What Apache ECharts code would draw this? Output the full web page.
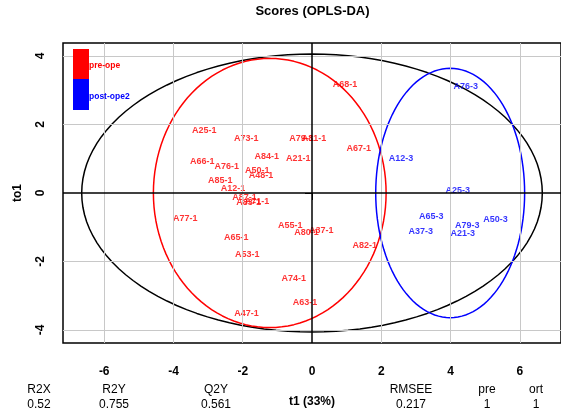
<!DOCTYPE html>
<html>
<head>
<meta charset="utf-8">
<script src="https://cdn.jsdelivr.net/npm/echarts@6/dist/echarts.min.js"></script>
<style>html,body{margin:0;padding:0;background:#fff;}#c{width:561px;height:413px;}</style>
</head>
<body>
<div id="c"></div>
<script>
// ---- data ----
const seriesNames = ['pre-ope', 'post-ope2'];
const seriesColors = ['#ff0000', '#0000ff'];

const preLabels = ['A68-1','A25-1','A73-1','A79-1','A81-1','A84-1','A21-1','A67-1','A66-1','A76-1','A50-1','A48-1','A85-1','A12-1','A87-1','A83-1','A71-1','A77-1','A55-1','A80-1','A37-1','A65-1','A53-1','A82-1','A74-1','A63-1','A47-1'];
const preX = [0.95,-3.11,-1.90,-0.30,0.06,-1.31,-0.40,1.35,-3.17,-2.46,-1.58,-1.47,-2.65,-2.28,-1.95,-1.83,-1.59,-3.66,-0.63,-0.16,0.27,-2.19,-1.87,1.52,-0.53,-0.20,-1.89];
const preY = [3.18,1.83,1.58,1.60,1.58,1.07,1.00,1.31,0.91,0.78,0.65,0.50,0.35,0.13,-0.12,-0.29,-0.26,-0.74,-0.95,-1.16,-1.11,-1.31,-1.81,-1.52,-2.50,-3.20,-3.53];

const postLabels = ['A76-3','A12-3','A25-3','A65-3','A50-3','A79-3','A37-3','A21-3'];
const postX = [4.44,2.57,4.21,3.44,5.30,4.48,3.14,4.35];
const postY = [3.10,1.02,0.07,-0.70,-0.76,-0.95,-1.12,-1.17];

// ellipses: Hotelling T2 (black), pre-ope (red), post-ope2 (blue)
const ellipseColors = ['#000000', '#ff0000', '#0000ff'];
const ellipseCx = [0, -1.22, 3.99];
const ellipseCy = [0, 0, 0];
const ellipseRx = [6.65, 3.36, 2.15];
const ellipseRy = [4.06, 3.93, 3.64];

const xTicks = [-6, -4, -2, 0, 2, 4, 6];
const yTicks = [-4, -2, 0, 2, 4];
const xGrid = [-6, -4, -2, 2, 4, 6];
const yGrid = [-4, -2, 2, 4];

const statNames = ['R2X', 'R2Y', 'Q2Y', 'RMSEE', 'pre', 'ort'];
const statValues = ['0.52', '0.755', '0.561', '0.217', '1', '1'];

const titleText = 'Scores (OPLS-DA)';
const xName = 't1 (33%)';
const yName = 'to1';

// ---- chart ----
const FONT = '"Liberation Sans", Arial, sans-serif';
const chart = echarts.init(document.getElementById('c'), null, {renderer: 'canvas'});

function ellipsePts(i) {
  const pts = [];
  const n = 120;
  for (let k = 0; k <= n; k++) {
    const t = 2 * Math.PI * k / n;
    pts.push([ellipseCx[i] + ellipseRx[i] * Math.cos(t), ellipseCy[i] + ellipseRy[i] * Math.sin(t)]);
  }
  return pts;
}

const series = [];
// grid lines + zero lines
series.push({
  type: 'line', data: [[0, 0]], showSymbol: false, silent: true, z: 1,
  lineStyle: {width: 0},
  markLine: {
    silent: true, symbol: 'none', animation: false,
    label: {show: false},
    data: xGrid.map(v => ({xAxis: v, lineStyle: {color: '#c8c8c8', width: 1, type: 'solid'}}))
      .concat(yGrid.map(v => ({yAxis: v, lineStyle: {color: '#c8c8c8', width: 1, type: 'solid'}})))
      .concat([{xAxis: 0, lineStyle: {color: '#000', width: 1.5, type: 'solid'}},
               {yAxis: 0, lineStyle: {color: '#000', width: 1.5, type: 'solid'}}])
  }
});
for (let i = 0; i < 3; i++) {
  series.push({
    type: 'line', data: ellipsePts(i), showSymbol: false, smooth: false, silent: true, z: 2,
    lineStyle: {color: ellipseColors[i], width: 1.5}
  });
}
function labelSeries(name, color, xs, ys, labs) {
  return {
    name: name, type: 'scatter', z: 3,
    data: xs.map((x, i) => [x, ys[i], labs[i]]),
    symbolSize: 1,
    itemStyle: {color: 'rgba(0,0,0,0)'},
    label: {
      show: true, position: 'inside', formatter: p => p.value[2],
      color: color, fontSize: 9, fontWeight: 'bold', fontFamily: FONT,
      align: 'center', verticalAlign: 'middle'
    }
  };
}
series.push(labelSeries(seriesNames[0], seriesColors[0], preX, preY, preLabels));
series.push(labelSeries(seriesNames[1], seriesColors[1], postX, postY, postLabels));

const statX = [39, 114, 216, 411, 487, 536];
const graphics = [];
// legend
graphics.push({type: 'rect', z: 100, left: 73, top: 49, shape: {width: 16, height: 30}, style: {fill: seriesColors[0]}});
graphics.push({type: 'rect', z: 100, left: 73, top: 79, shape: {width: 16, height: 31}, style: {fill: seriesColors[1]}});
graphics.push({type: 'text', z: 100, x: 89, y: 66, style: {text: seriesNames[0], fill: seriesColors[0], font: 'bold 8.5px ' + FONT, textAlign: 'left', textVerticalAlign: 'middle'}});
graphics.push({type: 'text', z: 100, x: 89, y: 97, style: {text: seriesNames[1], fill: seriesColors[1], font: 'bold 8.5px ' + FONT, textAlign: 'left', textVerticalAlign: 'middle'}});
// stats table
for (let i = 0; i < statNames.length; i++) {
  graphics.push({type: 'text', x: statX[i], y: 390, style: {text: statNames[i], fill: '#000', font: '12px ' + FONT, textAlign: 'center', textVerticalAlign: 'middle'}});
  graphics.push({type: 'text', x: statX[i], y: 405, style: {text: statValues[i], fill: '#000', font: '12px ' + FONT, textAlign: 'center', textVerticalAlign: 'middle'}});
}

chart.setOption({
  animation: false,
  backgroundColor: '#fff',
  title: {
    text: titleText, left: 312.5, top: 5, padding: 0, textAlign: 'center',
    textStyle: {fontSize: 13, fontWeight: 'bold', color: '#000', fontFamily: FONT}
  },
  grid: {show: true, left: 63, top: 43, width: 499.4, height: 305, borderColor: '#000', borderWidth: 1.5, containLabel: false},
  xAxis: {
    type: 'value', min: -7.19, max: 7.19,
    name: xName, nameLocation: 'middle', nameGap: 53,
    nameTextStyle: {fontSize: 12, fontWeight: 'bold', color: '#000', fontFamily: FONT},
    axisLine: {show: false},
    axisTick: {show: true, length: 7, customValues: xTicks, lineStyle: {color: '#000', width: 1}},
    axisLabel: {show: true, customValues: xTicks, margin: 23, fontSize: 12, fontWeight: 'bold', color: '#000', fontFamily: FONT},
    splitLine: {show: false}
  },
  yAxis: {
    type: 'value', min: -4.38, max: 4.38,
    name: yName, nameLocation: 'middle', nameGap: 39, nameRotate: 90,
    nameTextStyle: {fontSize: 12, fontWeight: 'bold', color: '#000', fontFamily: FONT},
    axisLine: {show: false},
    axisTick: {show: true, length: 7, customValues: yTicks, lineStyle: {color: '#000', width: 1}},
    axisLabel: {show: true, customValues: yTicks, rotate: 90, margin: 16, fontSize: 12, fontWeight: 'bold', color: '#000', fontFamily: FONT},
    splitLine: {show: false}
  },
  graphic: graphics,
  series: series
});
</script>
</body>
</html>
